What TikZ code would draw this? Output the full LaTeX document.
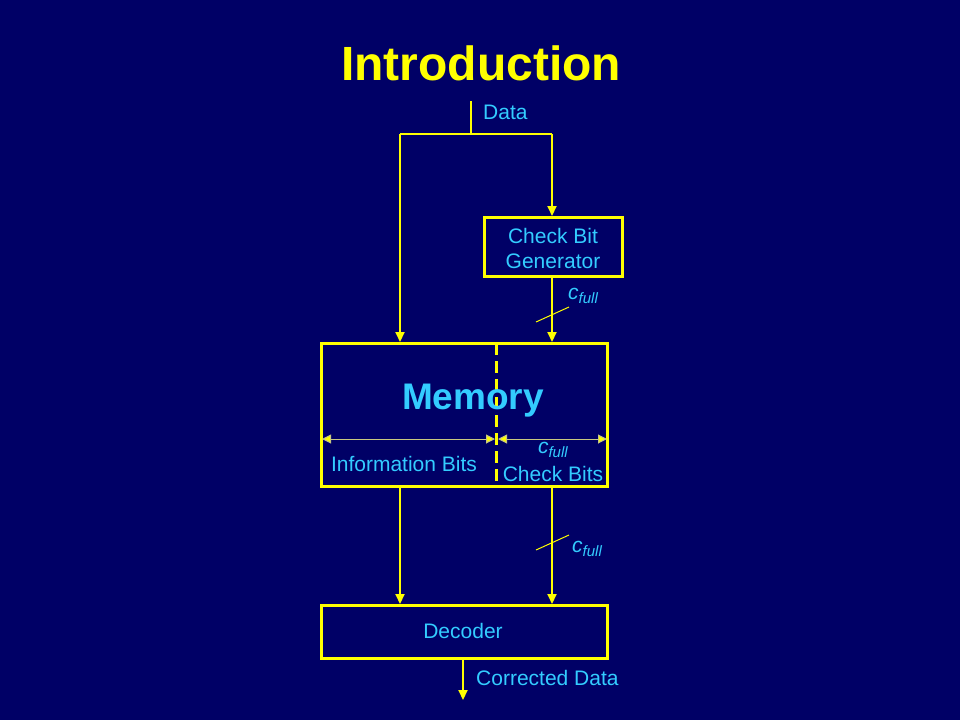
\documentclass[tikz,border=0pt]{standalone}
\usepackage{fontspec}
\setmainfont{Liberation Sans}
\usetikzlibrary{arrows.meta}
\definecolor{bg}{HTML}{000066}
\definecolor{ylw}{HTML}{FFFF00}
\definecolor{cyn}{HTML}{33CCFF}
\definecolor{dimc}{HTML}{C8C880}
\newcommand{\cfl}{\textit{c}\raisebox{-4.5pt}{\fontsize{15}{17}\selectfont\textit{full}}}
\begin{document}
\begin{tikzpicture}[x=1pt,y=-1pt,
  box/.style={draw=ylw,line width=3pt,inner sep=0pt},
  wire/.style={draw=ylw,line width=2pt},
  arr/.style={wire,-{Triangle[length=10pt,width=9pt]}},
  lbl/.style={text=cyn,font=\fontsize{21}{25}\selectfont,inner sep=0pt},
  slash/.style={draw=ylw,line width=1pt},
  dim/.style={draw=dimc,line width=1pt,{Triangle[length=9pt,width=9pt,fill=ylw]}-{Triangle[length=9pt,width=9pt,fill=ylw]}}]
\fill[bg] (0,0) rectangle (960,720);
\useasboundingbox (0,0) rectangle (960,720);
\node[text=ylw,font=\fontsize{48}{56}\bfseries\selectfont] (title) at (481,63) {Introduction};
% boxes
\node[box,minimum width=138pt,minimum height=59pt,anchor=north west] (cbg) at (483,216) {};
\node[lbl,align=center] (cbgt) at (553,248) {Check Bit\\Generator};
\node[box,minimum width=286pt,minimum height=143pt,anchor=north west] (mem) at (320,342) {};
\node[box,minimum width=286pt,minimum height=53pt,anchor=north west] (dec) at (320,604) {};
\node[lbl] (dect) at (463,631) {Decoder};
% data input
\coordinate (din) at (471,101);
\coordinate (dsplit) at (471,134);
\coordinate (dl) at (400,134);
\coordinate (dr) at (552,134);
\node[lbl,anchor=west] (dlabel) at (483,112) {Data};
\draw[wire] (din) -- (dsplit);
\draw[wire] (dl) -- (dr);
\draw[arr] (dl) -- (dl |- mem.north);
\draw[arr] (dr) -- (dr |- cbg.north);
\draw[arr] (cbg.south -| dr) -- (dr |- mem.north);
\coordinate (s1a) at (536,322); \coordinate (s1b) at (569,307);
\draw[slash] (s1a) -- (s1b);
\node[lbl,anchor=west] (c1) at (568,296) {\cfl};
% memory internals
\coordinate (mt) at (496,343); \coordinate (mb) at (496,487);
\draw[ylw,line width=3pt,dash pattern=on 12pt off 6pt] (mt) -- (mb);
\node[text=cyn,font=\fontsize{37}{44}\bfseries\selectfont,inner sep=0pt] (memt) at (473,401) {Memory};
\coordinate (d1) at (322,439); \coordinate (d2) at (495,439);
\coordinate (d3) at (498,439); \coordinate (d4) at (607,439);
\draw[dim] (d1) -- (d2);
\draw[dim] (d3) -- (d4);
\node[lbl] (info) at (404,464) {Information Bits};
\node[lbl] (c2) at (553,450) {\cfl};
\node[lbl] (chk) at (553,474) {Check Bits};
% memory to decoder
\coordinate (ml) at (400,487); \coordinate (mr) at (552,487);
\draw[arr] (ml) -- (ml |- dec.north);
\draw[arr] (mr) -- (mr |- dec.north);
\coordinate (s2a) at (536,550); \coordinate (s2b) at (569,535);
\draw[slash] (s2a) -- (s2b);
\node[lbl,anchor=west] (c3) at (572,549) {\cfl};
% output
\coordinate (dout) at (463,700);
\draw[arr] (dec.south -| dout) -- (dout);
\node[lbl,anchor=west] (corr) at (476,678) {Corrected Data};
\end{tikzpicture}
\end{document}
